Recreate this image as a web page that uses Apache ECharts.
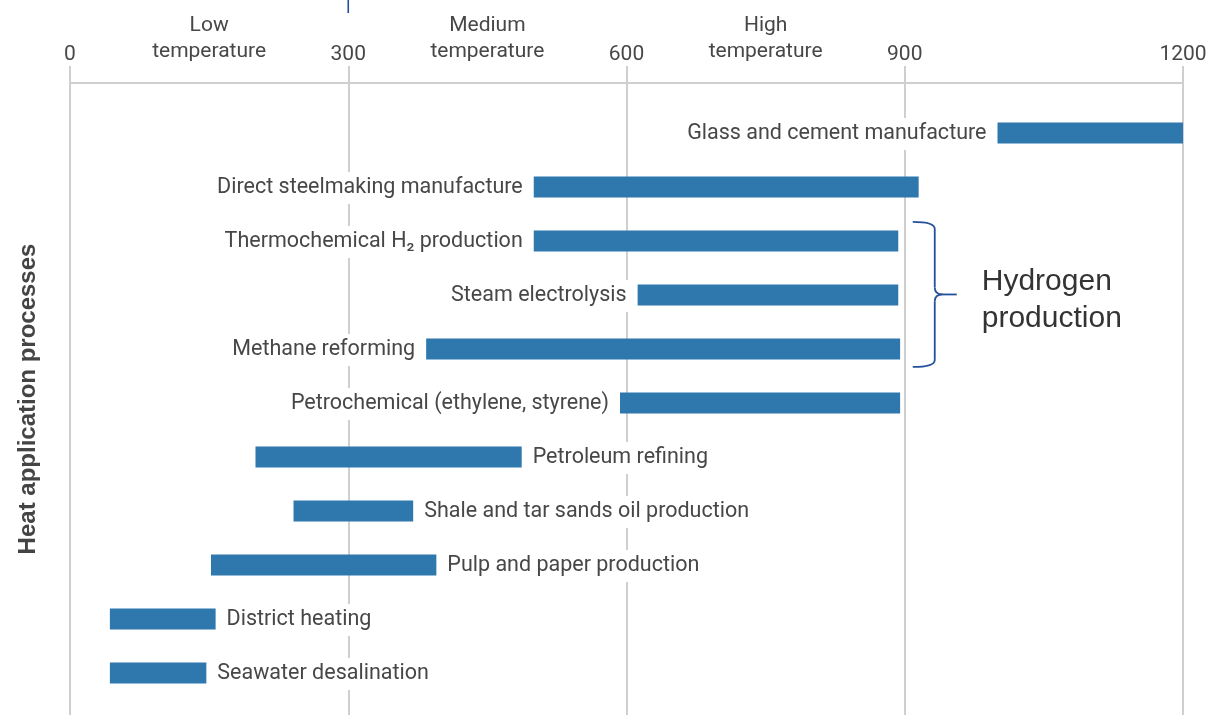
<!DOCTYPE html>
<html>
<head>
<meta charset="utf-8">
<script src="https://cdn.jsdelivr.net/npm/echarts@6/dist/echarts.min.js"></script>
<style>
html,body{margin:0;padding:0;background:#fff;}
#chart{width:1210px;height:715px;}
</style>
</head>
<body>
<div id="chart"></div>
<script>
const categories = [
  'Glass and cement manufacture',
  'Direct steelmaking manufacture',
  'Thermochemical H\u2082 production',
  'Steam electrolysis',
  'Methane reforming',
  'Petrochemical (ethylene, styrene)',
  'Petroleum refining',
  'Shale and tar sands oil production',
  'Pulp and paper production',
  'District heating',
  'Seawater desalination'
];
const startValues = [1000, 500, 500, 612, 384, 593, 200, 241, 152, 43, 43];
const endValues   = [1200, 915, 893, 893, 895, 895, 487, 370, 395, 157, 147];
const tickValues = [0, 300, 600, 900, 1200];
const bandCenters = [150, 450, 750];
const bandLabels = ['Low\ntemperature', 'Medium\ntemperature', 'High\ntemperature'];
const yAxisTitle = 'Heat application processes';
const groupRows = [2, 4];
const groupLabel = 'Hydrogen\nproduction';

const barColor = '#2e78ae';
const gridColor = '#cfcfcf';
const textColor = '#474747';
const fontFamily = 'Roboto, sans-serif';

const chart = echarts.init(document.getElementById('chart'), null, {renderer: 'canvas'});

function renderItem(params, api) {
  const s = api.value(0), e = api.value(1), idx = api.value(2);
  const p0 = api.coord([s, idx]);
  const p1 = api.coord([e, idx]);
  const h = 21;
  const labelLeft = s >= 300;
  return {
    type: 'group',
    children: [
      {
        type: 'rect',
        shape: {x: p0[0], y: p0[1] - h / 2, width: p1[0] - p0[0], height: h},
        style: {fill: barColor}
      },
      {
        type: 'text',
        x: labelLeft ? p0[0] - 7 : p1[0] + 7,
        y: p0[1] + 1,
        style: {
          text: categories[idx],
          align: labelLeft ? 'right' : 'left',
          verticalAlign: 'middle',
          fontSize: 21.5,
          fontFamily: fontFamily,
          fill: textColor,
          backgroundColor: '#fff',
          padding: [5, 4, 5, 4]
        }
      }
    ]
  };
}

const tickMax = tickValues[tickValues.length - 1];
const tickStep = tickValues[1] - tickValues[0];

chart.setOption({
  animation: false,
  grid: {left: 70, right: 27, top: 83, bottom: 0, containLabel: false},
  xAxis: [
    {
      type: 'value', position: 'top', min: tickValues[0], max: tickMax, interval: tickStep,
      axisLine: {show: true, onZero: false, lineStyle: {color: gridColor, width: 2}},
      axisTick: {show: true, length: 17, lineStyle: {color: gridColor, width: 2}},
      splitLine: {show: true, lineStyle: {color: gridColor, width: 2}},
      axisLabel: {
        color: textColor, fontSize: 21, fontFamily: fontFamily, margin: 18,
        formatter: function (v) { return String(v); }
      }
    },
    {
      type: 'value', position: 'top', min: tickValues[0], max: tickMax, interval: tickStep / 2,
      axisLine: {show: false, onZero: false}, axisTick: {show: false}, splitLine: {show: false},
      axisLabel: {
        color: textColor, fontSize: 21, fontFamily: fontFamily, margin: 18, lineHeight: 26,
        formatter: function (v) {
          const k = bandCenters.indexOf(v);
          return k >= 0 ? bandLabels[k] : '';
        }
      }
    }
  ],
  yAxis: {
    type: 'value', inverse: true, min: -0.926, max: 10.78,
    axisLine: {show: false}, axisTick: {show: false}, splitLine: {show: false}, axisLabel: {show: false},
    name: yAxisTitle, nameLocation: 'middle', nameRotate: 90, nameGap: 30,
    nameTextStyle: {fontSize: 24, fontWeight: 'bold', color: '#444', fontFamily: 'Liberation Sans, Arial, sans-serif'}
  },
  series: [{
    type: 'custom',
    renderItem: renderItem,
    encode: {x: [0, 1], y: 2},
    data: categories.map((c, i) => [startValues[i], endValues[i], i]),
    z: 5
  }]
});

// annotations positioned through the chart's own scales
const pTop = chart.convertToPixel({xAxisIndex: 0, yAxisIndex: 0}, [900, groupRows[0]]);
const pBot = chart.convertToPixel({xAxisIndex: 0, yAxisIndex: 0}, [900, groupRows[1]]);
const pMark = chart.convertToPixel({xAxisIndex: 0, yAxisIndex: 0}, [tickValues[1], 0]);
const bx0 = pTop[0] + 8;
const bx1 = bx0 + 22;
const yT = pTop[1] - 19, yB = pBot[1] + 18, yM = (yT + yB) / 2;
const braceColor = '#24509a';
const bStyle = {fill: 'none', stroke: braceColor, lineWidth: 1.8};

chart.setOption({
  graphic: [
    {type: 'bezierCurve', shape: {x1: bx0, y1: yT, cpx1: bx1, cpy1: yT, x2: bx1, y2: yT + 7}, style: bStyle},
    {type: 'line', shape: {x1: bx1, y1: yT + 7, x2: bx1, y2: yM - 7}, style: bStyle},
    {type: 'bezierCurve', shape: {x1: bx1, y1: yM - 7, cpx1: bx1, cpy1: yM, x2: bx1 + 8, y2: yM}, style: bStyle},
    {type: 'line', shape: {x1: bx1 + 8, y1: yM, x2: bx1 + 22, y2: yM}, style: bStyle},
    {type: 'bezierCurve', shape: {x1: bx1 + 8, y1: yM, cpx1: bx1, cpy1: yM, x2: bx1, y2: yM + 7}, style: bStyle},
    {type: 'line', shape: {x1: bx1, y1: yM + 7, x2: bx1, y2: yB - 7}, style: bStyle},
    {type: 'bezierCurve', shape: {x1: bx1, y1: yB - 7, cpx1: bx1, cpy1: yB, x2: bx0, y2: yB}, style: bStyle},
    {
      type: 'text',
      x: bx1 + 47, y: yM + 6,
      style: {
        text: groupLabel, fontSize: 30, lineHeight: 37,
        fontFamily: 'Liberation Sans, Arial, sans-serif',
        fill: '#333', align: 'left', verticalAlign: 'middle'
      }
    },
    {
      type: 'line',
      shape: {x1: pMark[0], y1: 0, x2: pMark[0], y2: 13},
      style: {stroke: braceColor, lineWidth: 1.6}
    }
  ]
});
</script>
</body>
</html>
